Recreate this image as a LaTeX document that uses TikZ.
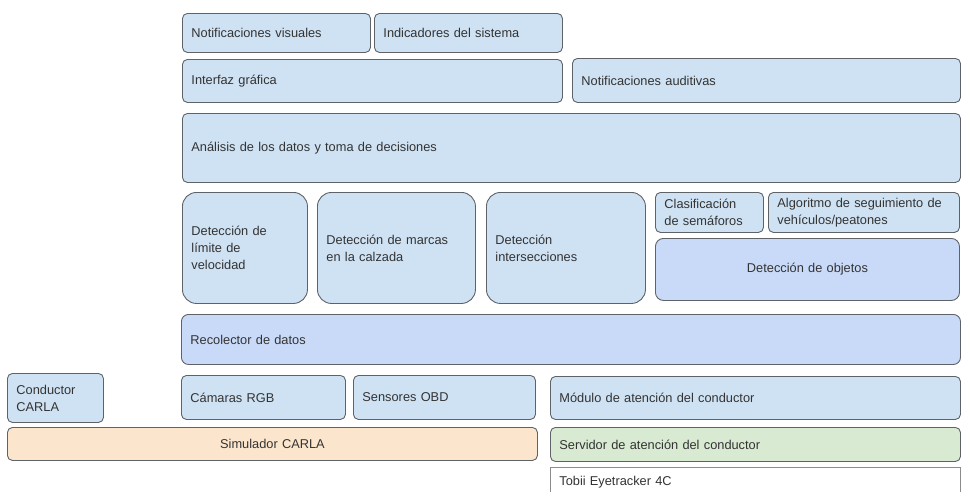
\documentclass[tikz,border=0pt]{standalone}
\usepackage{fontspec}
\setmainfont{Liberation Sans}
\usepackage{xcolor}
\usepackage{tikz}

\definecolor{boxblue}{HTML}{CFE2F3}
\definecolor{boxcorn}{HTML}{C9DAF8}
\definecolor{boxorange}{HTML}{FCE5CD}
\definecolor{boxgreen}{HTML}{D9EAD3}
\definecolor{boxline}{HTML}{5F6368}
\definecolor{txtgray}{HTML}{333333}

\begin{document}
\begin{tikzpicture}[x=1pt, y=-1pt,
  blk/.style={draw=boxline, line width=0.9pt, fill=boxblue, rounded corners=5pt,
    anchor=north west, inner xsep=9pt, inner ysep=0pt, align=left, text=txtgray,
    font=\fontsize{12.8}{17}\selectfont},
  tall/.style={blk, rounded corners=14pt},
  mid/.style={align=center}]

% Frame
\path[use as bounding box] (0,0) rectangle (961,491);
\clip (0,0) rectangle (961,491);

% Presentation layer
\node[blk, text width=170pt, minimum height=39pt] (notvis) at (182,13) {Notificaciones visuales};
\node[blk, text width=170pt, minimum height=39pt] (indsis) at (374,13) {Indicadores del sistema};
\node[blk, text width=362pt, minimum height=43pt] (intgraf) at (182,59) {Interfaz gráfica};
\node[blk, text width=370pt, minimum height=44pt] (notaud) at (572,58) {Notificaciones auditivas};

% Decision
\node[blk, text width=760pt, minimum height=69pt] (analisis) at (182,113) {Análisis de los datos y toma de decisiones};

% Detection modules
\node[tall, text width=107pt, minimum height=111pt] (limvel) at (182,192) {Detección de\\límite de\\velocidad};
\node[tall, text width=140pt, minimum height=111pt] (marcas) at (317,192) {Detección de marcas\\en la calzada};
\node[tall, text width=141pt, minimum height=111pt] (inters) at (486,192) {Detección\\intersecciones};
\node[blk, text width=90pt, minimum height=40pt] (semaf) at (655,192) {Clasificación\\de semáforos};
\node[blk, text width=173pt, minimum height=40pt] (segui) at (768,192) {Algoritmo de seguimiento de\\vehículos/peatones};
\node[blk, mid, fill=boxcorn, rounded corners=8pt, text width=286pt, minimum height=62pt] (objetos) at (655,238) {Detección de objetos};

% Data collection
\node[blk, fill=boxcorn, rounded corners=7pt, text width=761pt, minimum height=50pt] (recol) at (181,314) {Recolector de datos};

% Sources
\node[blk, text width=78pt, minimum height=49pt] (condcarla) at (7,373) {Conductor\\CARLA};
\node[blk, text width=146pt, minimum height=44pt] (camaras) at (181,375) {Cámaras RGB};
\node[blk, text width=164pt, minimum height=44pt] (sensores) at (353,375) {Sensores OBD};
\node[blk, text width=392pt, minimum height=43pt] (modulo) at (550,376) {Módulo de atención del conductor};

% Platforms
\node[blk, mid, fill=boxorange, text width=512pt, minimum height=33pt] (simcarla) at (7,427) {Simulador CARLA};
\node[blk, fill=boxgreen, text width=392pt, minimum height=34pt] (servidor) at (550,427) {Servidor de atención del conductor};
\node[blk, fill=white, draw=black!45, line width=0.7pt, rounded corners=0pt, text width=392pt, minimum height=30pt] (tobii) at (550,467) {Tobii Eyetracker 4C};

\end{tikzpicture}
\end{document}
